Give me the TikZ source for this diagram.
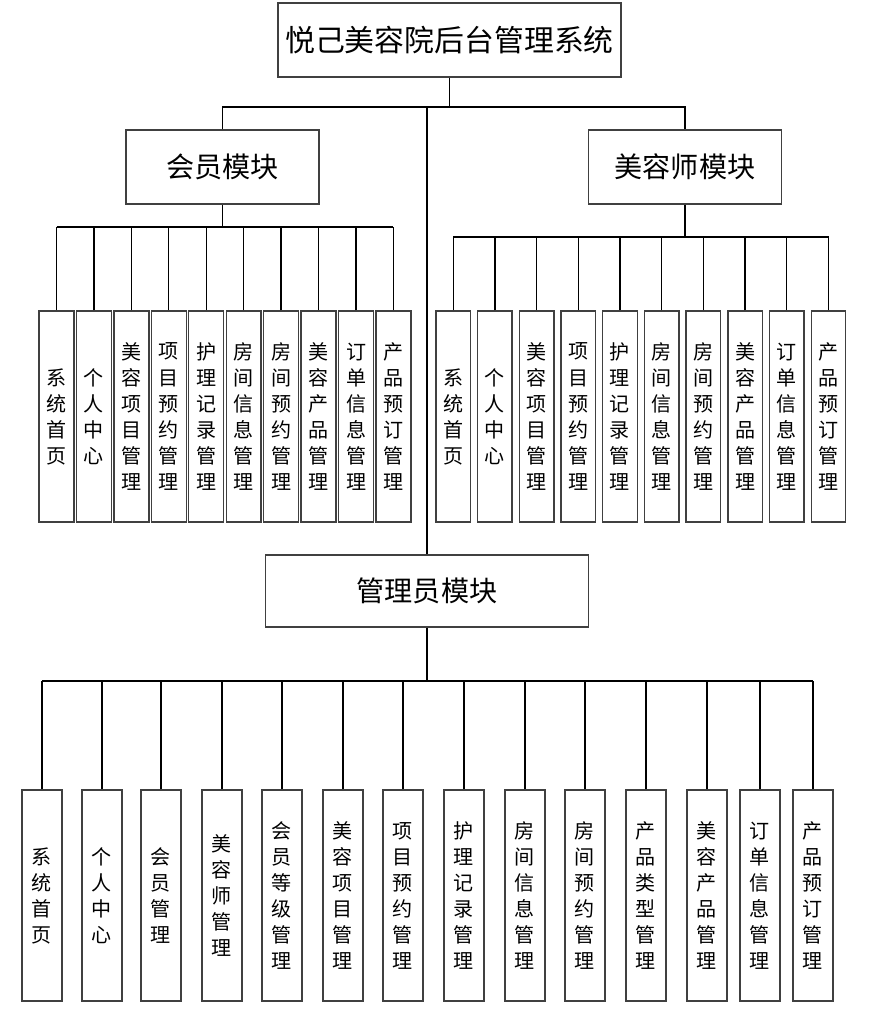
\documentclass[tikz,border=0pt]{standalone}
\usepackage{fontspec}
\setmainfont{Noto Sans CJK SC}
\usetikzlibrary{positioning}

\begin{document}
\begin{tikzpicture}[x=0.02cm, y=-0.02cm,
    box/.style={draw=black!75, line width=0.8pt, fill=white, inner sep=0pt},
    titlebox/.style={box, minimum width=6.86cm, minimum height=1.48cm, font=\fontsize{17pt}{20pt}\selectfont},
    modbox/.style={box, minimum width=3.86cm, minimum height=1.48cm, font=\fontsize{16pt}{19pt}\selectfont},
    leaf/.style={box, minimum height=4.22cm, align=center, font=\fontsize{11.4pt}{14.8pt}\selectfont},
    link/.style={line width=0.75pt}]
    \useasboundingbox (0,0) rectangle (869,1024);

    % top and module boxes
    \node[titlebox] (sys) at (449.5,40) {悦己美容院后台管理系统};
    \node[modbox] (mem) at (222.5,167) {会员模块};
    \node[modbox] (bea) at (685,167) {美容师模块};
    \node[modbox, minimum width=6.46cm, minimum height=1.44cm] (adm) at (427,591) {管理员模块};

    \coordinate (topbus) at (0,107);
    \coordinate (mbus) at (0,227);
    \coordinate (bbus) at (0,237);
    \coordinate (abus) at (0,681);

    \draw[link] (sys.south) -- (sys.south |- topbus);
    \draw[link] (mem.north) -- (mem.north |- topbus) -- (bea.north |- topbus) -- (bea.north);
    \draw[link] (adm.north) -- (adm.north |- topbus);

    % member module
    \foreach \t [count=\i from 0] in {系\\统\\首\\页, 个\\人\\中\\心, 美\\容\\项\\目\\管\\理,
        项\\目\\预\\约\\管\\理, 护\\理\\记\\录\\管\\理, 房\\间\\信\\息\\管\\理, 房\\间\\预\\约\\管\\理,
        美\\容\\产\\品\\管\\理, 订\\单\\信\\息\\管\\理, 产\\品\\预\\订\\管\\理} {
        \node[leaf, minimum width=0.7cm] (m\i) at (56.5+37.44*\i, 416.5) {\t};
        \draw[link] (m\i.north) -- (m\i.north |- mbus);
    }
    \draw[link] (m0.north |- mbus) -- (m9.north |- mbus);
    \draw[link] (mem.south) -- (mem.south |- mbus);

    % beautician module
    \foreach \t [count=\i from 0] in {系\\统\\首\\页, 个\\人\\中\\心, 美\\容\\项\\目\\管\\理,
        项\\目\\预\\约\\管\\理, 护\\理\\记\\录\\管\\理, 房\\间\\信\\息\\管\\理, 房\\间\\预\\约\\管\\理,
        美\\容\\产\\品\\管\\理, 订\\单\\信\\息\\管\\理, 产\\品\\预\\订\\管\\理} {
        \node[leaf, minimum width=0.69cm] (b\i) at (453.2+41.7*\i, 416.5) {\t};
        \draw[link] (b\i.north) -- (b\i.north |- bbus);
    }
    \draw[link] (b0.north |- bbus) -- (b9.north |- bbus);
    \draw[link] (bea.south) -- (bea.south |- bbus);

    % admin module
    \foreach \x/\t [count=\i] in {42/系\\统\\首\\页, 102/个\\人\\中\\心, 161/会\\员\\管\\理,
        222/美\\容\\师\\管\\理, 282/会\\员\\等\\级\\管\\理, 343/美\\容\\项\\目\\管\\理,
        403/项\\目\\预\\约\\管\\理, 464/护\\理\\记\\录\\管\\理, 525/房\\间\\信\\息\\管\\理,
        585/房\\间\\预\\约\\管\\理, 646/产\\品\\类\\型\\管\\理, 707/美\\容\\产\\品\\管\\理,
        760/订\\单\\信\\息\\管\\理, 813/产\\品\\预\\订\\管\\理} {
        \node[leaf, minimum width=0.8cm] (a\i) at (\x, 895.5) {\t};
        \draw[link] (a\i.north) -- (a\i.north |- abus);
    }
    \draw[link] (a1.north |- abus) -- (a14.north |- abus);
    \draw[link] (adm.south) -- (adm.south |- abus);
\end{tikzpicture}
\end{document}
